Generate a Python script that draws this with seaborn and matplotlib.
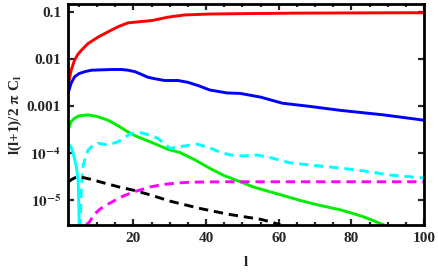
'''
plot.py

Angular power spectra l(l+1)/2 pi C_l against multipole l, on a log scale,
drawn in the Mathematica frame style (inward ticks on all four sides).
'''
import pandas as pd
import seaborn as sns
import matplotlib.pyplot as plt
from matplotlib.ticker import MultipleLocator, NullLocator

# values
red_l = [2, 2.8, 3.8, 4.7, 5.7, 7.5, 10.3, 13, 15.8, 18.5, 21.3, 25, 29.5,
         34.1, 41, 52, 65, 80, 100]
red_cl = [0.0026, 0.0056, 0.0095, 0.0126, 0.0155, 0.0214, 0.0295, 0.038,
          0.049, 0.059, 0.062, 0.066, 0.078, 0.087, 0.091, 0.093, 0.095,
          0.096, 0.097]

blue_l = [2, 2.8, 3.8, 5, 6.6, 8.5, 11.2, 14, 16.7, 18.5, 20.4, 22, 24, 26,
          28.6, 32.3, 35, 38, 41, 45.8, 49.4, 55, 61, 67.8, 77, 88.8, 100]
blue_cl = [0.00186, 0.0030, 0.0042, 0.0049, 0.0054, 0.0058, 0.0059, 0.0060,
           0.0060, 0.0058, 0.0054, 0.0048, 0.0041, 0.0038, 0.0035, 0.0035,
           0.0032, 0.0027, 0.0022, 0.0019, 0.00186, 0.00155, 0.00115,
           0.0010, 0.00081, 0.00065, 0.0005]

green_l = [2, 2.8, 3.8, 5, 7.5, 10, 13, 15.8, 18.5, 21, 24.6, 29.5, 32.9, 37,
           41.1, 45, 49.4, 53, 57.6, 62, 65.9, 71, 77, 83, 89]
green_cl = [3.1e-4, 4.6e-4, 5.5e-4, 6.2e-4, 6.5e-4, 6.0e-4, 5.0e-4, 3.8e-4,
            2.8e-4, 2.24e-4, 1.74e-4, 1.2e-4, 1.02e-4, 7.1e-5, 4.7e-5,
            3.3e-5, 2.45e-5, 1.9e-5, 1.5e-5, 1.2e-5, 9.8e-6, 7.8e-6, 6.2e-6,
            4.5e-6, 2.95e-6]

cyan_solid_l = [2, 2.7, 3.4, 4.3, 4.8, 5.1]
cyan_solid_cl = [1.62e-4, 1.38e-4, 1.0e-4, 5.1e-5, 2.5e-5, 2.5e-6]

cyan_dash_l = [5.3, 5.7, 6.1, 6.8, 7.5, 8.8, 10.3, 13, 15.8, 17.5, 19.4, 22.2,
               24.6, 26.8, 30.1, 33, 37.5, 41, 43.5, 46.6, 50, 54, 58, 63, 70,
               77, 84, 90.7, 100]
cyan_dash_cl = [2.5e-6, 2.0e-5, 5.1e-5, 8.3e-5, 1.15e-4, 1.45e-4, 1.62e-4,
                1.48e-4, 1.74e-4, 2.14e-4, 2.63e-4, 2.7e-4, 2.4e-4, 2.04e-4,
                1.26e-4, 1.38e-4, 1.55e-4, 1.29e-4, 1.07e-4, 9.1e-5, 8.7e-5,
                9.1e-5, 7.9e-5, 6.2e-5, 5.4e-5, 4.8e-5, 4.1e-5, 3.4e-5,
                2.95e-5]

magenta_l = [7, 8, 9, 11, 13.6, 17, 20, 24.6, 28, 32, 35.6, 45, 60, 80, 100]
magenta_cl = [2.95e-6, 3.5e-6, 4.8e-6, 6.6e-6, 8.7e-6, 1.2e-5, 1.48e-5,
              1.9e-5, 2.14e-5, 2.3e-5, 2.4e-5, 2.45e-5, 2.45e-5, 2.45e-5,
              2.45e-5]

black_l = [2, 3, 4, 5.3, 8, 12, 16, 20, 24.6, 30, 38.4, 46, 54.9, 58, 60.5]
black_cl = [2.4e-5, 2.75e-5, 3.0e-5, 3.1e-5, 2.8e-5, 2.3e-5, 1.9e-5, 1.62e-5,
            1.29e-5, 9.5e-6, 6.6e-6, 5.0e-6, 3.9e-6, 3.4e-6, 2.95e-6]

ytick_values = [1e-5, 1e-4, 1e-3, 1e-2, 1e-1]
ytick_labels = [r'$\mathbf{10^{-5}}$', r'$\mathbf{10^{-4}}$', '0.001', '0.01', '0.1']
xtick_values = [20, 40, 60, 80, 100]


def draw_curve(ax, ls, cls, colour, dashed=False):
    '''
    Draws one spectrum on the axes through seaborn.
    '''
    frame = pd.DataFrame({'l': ls, 'cl': cls})
    line_style = (0, (3.2, 2.0)) if dashed else '-'
    sns.lineplot(data=frame, x='l', y='cl', color=colour, linewidth=2.1,
                 linestyle=line_style, sort=False, ax=ax)


sns.set_style('ticks')
plt.rcParams['font.family'] = ['Liberation Serif', 'DejaVu Serif']
plt.rcParams['font.weight'] = 'bold'
plt.rcParams['mathtext.fontset'] = 'stix'
plt.rcParams['lines.solid_joinstyle'] = 'round'

fig = plt.figure(figsize=(4.39, 2.73), dpi=100, facecolor='w')
ax = fig.add_axes([0.155, 0.176, 0.811, 0.809])

draw_curve(ax, red_l, red_cl, '#ff0000')
draw_curve(ax, blue_l, blue_cl, '#0000ff')
draw_curve(ax, green_l, green_cl, '#00ee00')
draw_curve(ax, cyan_solid_l, cyan_solid_cl, '#00ffff')
draw_curve(ax, cyan_dash_l, cyan_dash_cl, '#00ffff', dashed=True)
draw_curve(ax, magenta_l, magenta_cl, '#ff00ff', dashed=True)
draw_curve(ax, black_l, black_cl, '#000000', dashed=True)

ax.set_yscale('log')
ax.set_xlim(2, 100)
ax.set_ylim(2.95e-6, 0.148)

ax.set_xticks(xtick_values)
ax.xaxis.set_minor_locator(MultipleLocator(5))
ax.set_yticks(ytick_values)
ax.set_yticklabels(ytick_labels)
ax.yaxis.set_minor_locator(NullLocator())

ax.tick_params(which='both', direction='in', top=True, right=True,
               labelsize=11, width=1.6, pad=5)
ax.tick_params(which='major', length=4)
ax.tick_params(which='minor', length=2.5)
for label in ax.get_xticklabels() + ax.get_yticklabels():
    label.set_fontweight('bold')

for side in ['left', 'right', 'top', 'bottom']:
    ax.spines[side].set_visible(True)
    ax.spines[side].set_linewidth(2.0)
    ax.spines[side].set_color('black')

ax.set_xlabel('l', fontsize=11, fontweight='bold', labelpad=8)
ax.set_ylabel(r'l(l+1)/2 $\mathbf{\pi}$ C$_\mathbf{l}$', fontsize=11,
              fontweight='bold', labelpad=2)

fig.savefig('out.png', dpi=100, facecolor='w')
plt.close(fig)
